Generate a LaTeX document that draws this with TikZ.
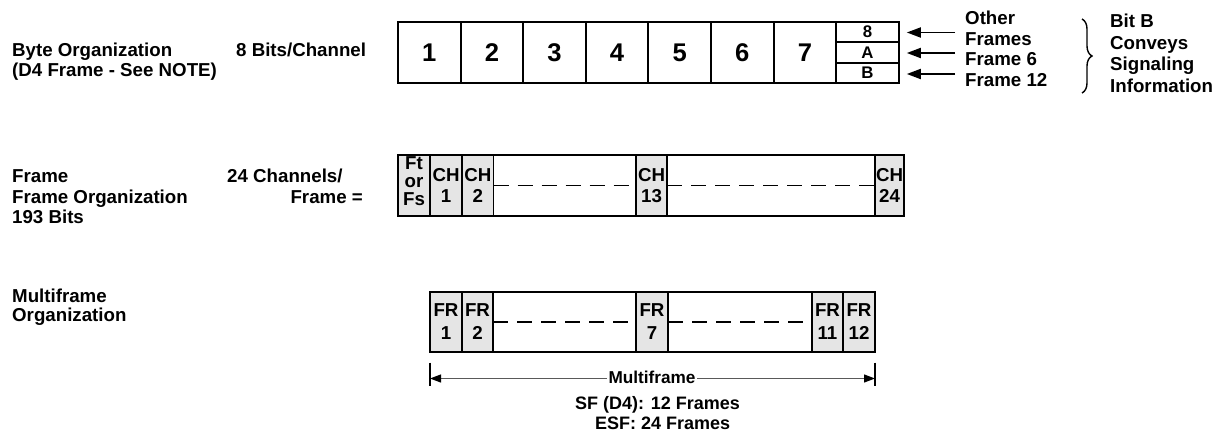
\documentclass[tikz,border=0pt]{standalone}
\usepackage{fontspec}
\setmainfont{Liberation Sans}
\usetikzlibrary{arrows.meta,decorations.pathreplacing}
\begin{document}
\begin{tikzpicture}[x=1pt,y=-1pt,
  lbl/.style={font=\fontsize{18.7}{20}\selectfont\bfseries, inner sep=0pt, anchor=base west},
  lble/.style={lbl, anchor=base east},
  cellbox/.style={draw, line width=1.9pt, inner sep=0pt, outer sep=0pt, minimum height=61pt},
  bytecell/.style={cellbox, minimum width=62.6pt, font=\fontsize{25.6}{28}\selectfont\bfseries},
  bitcell/.style={draw, line width=1.7pt, inner sep=0pt, outer sep=0pt, minimum width=62.6pt, minimum height=20.33pt, font=\fontsize{16.8}{18}\selectfont\bfseries},
  graycell/.style={cellbox, fill=gray!20, align=center, font=\fontsize{18.7}{21}\selectfont\bfseries},
  frcell/.style={graycell, minimum height=60pt, font=\fontsize{18.7}{23}\selectfont\bfseries},
  whitecell/.style={cellbox},
  whitecellm/.style={cellbox, minimum height=60pt},
  celltext/.style={inner sep=0pt, align=center, font=\fontsize{18.7}{18}\selectfont\bfseries},
  outerframe/.style={draw, line width=2.6pt},
  dashline/.style={line width=1.3pt, dash pattern=on 15pt off 9pt},
  sigarrow/.style={line width=1.8pt, shorten >=8pt, -{Triangle[length=14pt,width=10pt]}},
  dimarrow/.style={line width=1.2pt, draw=black!65, -{Triangle[length=11pt,width=8pt,color=black]}},
  tickline/.style={line width=2pt},
  bracestyle/.style={line width=1.4pt, decorate, decoration={brace, amplitude=10pt}},
]
\useasboundingbox (0,0) rectangle (1212,433);

% ---- Byte organization ----
\node[lbl] (bo1) at (12,57) {Byte Organization};
\node[lbl] (bo2) at (12,77) {(D4 Frame - See NOTE)};
\node[lbl] (bpc) at (236,57) {8 Bits/Channel};

\node[bytecell] (b1) at (429.3,52.5) {1};
\node[bytecell] (b2) at (491.9,52.5) {2};
\node[bytecell] (b3) at (554.5,52.5) {3};
\node[bytecell] (b4) at (617.1,52.5) {4};
\node[bytecell] (b5) at (679.7,52.5) {5};
\node[bytecell] (b6) at (742.3,52.5) {6};
\node[bytecell] (b7) at (804.9,52.5) {7};
\node[bitcell] (b8a) at (867.5,32.2) {8};
\node[bitcell] (b8b) at (867.5,52.5) {A};
\node[bitcell] (b8c) at (867.5,72.8) {B};
\draw[outerframe] (b1.north west) rectangle (b8c.south east);

\coordinate (a8) at (955,32.5);
\coordinate (aA) at (955,53);
\coordinate (aB) at (955,74);
\draw[sigarrow] (a8) -- (a8 -| b8a.east);
\draw[sigarrow] (aA) -- (aA -| b8b.east);
\draw[sigarrow] (aB) -- (aB -| b8c.east);

\node[lbl] (t1) at (965,24.5) {Other};
\node[lbl] (t2) at (965,45.2) {Frames};
\node[lbl] (t3) at (965,65.9) {Frame 6};
\node[lbl] (t4) at (965,86.6) {Frame 12};

\coordinate (brt) at (1082,19);
\coordinate (brb) at (1082,93);
\draw[bracestyle] (brt) -- (brb);

\node[lbl] (s1) at (1110,27.5) {Bit B};
\node[lbl] (s2) at (1110,49.2) {Conveys};
\node[lbl] (s3) at (1110,70.9) {Signaling};
\node[lbl] (s4) at (1110,92.6) {Information};

% ---- Frame organization ----
\node[lbl] (f1) at (12,182) {Frame};
\node[lbl] (f2) at (12,203) {Frame Organization};
\node[lbl] (f3) at (12,223) {193 Bits};
\node[lbl] (f4) at (227,182) {24 Channels/};
\node[lble] (f5) at (363,203) {Frame =};

\node[graycell, minimum width=32pt] (ft) at (414,185.5) {};
\node[celltext] (ftt) at (414,181) {Ft\\or\\Fs};
\node[graycell, minimum width=32pt] (ch1) at (446,185.5) {CH\\1};
\node[graycell, minimum width=31.5pt] (ch2) at (477.75,185.5) {CH\\2};
\node[whitecell, minimum width=142.5pt] (w1) at (564.75,185.5) {};
\node[graycell, minimum width=31pt] (ch13) at (651.5,185.5) {CH\\13};
\node[whitecell, minimum width=208pt] (w2) at (771,185.5) {};
\node[graycell, minimum width=29pt] (ch24) at (889.5,185.5) {CH\\24};
\draw[outerframe] (ft.north west) rectangle (ch24.south east);
\draw[dashline] (ch2.east) -- (ch13.west);
\draw[dashline] (ch13.east) -- (ch24.west);

% ---- Multiframe organization ----
\node[lbl] (m1) at (12,302) {Multiframe};
\node[lbl] (m2) at (12,321) {Organization};

\node[frcell, minimum width=32pt] (fr1) at (446,322) {FR\\1};
\node[frcell, minimum width=31pt] (fr2) at (477.5,322) {FR\\2};
\node[whitecellm, minimum width=143pt] (w3) at (564.5,322) {};
\node[frcell, minimum width=32pt] (fr7) at (652,322) {FR\\7};
\node[whitecellm, minimum width=144pt] (w4) at (740,322) {};
\node[frcell, minimum width=31pt] (fr11) at (827.5,322) {FR\\11};
\node[frcell, minimum width=32pt] (fr12) at (859,322) {FR\\12};
\draw[outerframe] (fr1.north west) rectangle (fr12.south east);
\draw[dashline] (fr2.east) -- (fr7.west);
\draw[dashline] (fr7.east) -- (fr11.west);

\coordinate (dl) at (430,378.5);
\coordinate (dr) at (875,378.5);
\draw[tickline] ([yshift=16pt]dl) -- ([yshift=-7pt]dl);
\draw[tickline] ([yshift=16pt]dr) -- ([yshift=-7pt]dr);
\node[font=\fontsize{17.2}{19}\selectfont\bfseries, fill=white, inner sep=1.5pt] (mf) at (652,377) {Multiframe};
\draw[dimarrow] (dl -| mf.west) -- (dl);
\draw[dimarrow] (dr -| mf.east) -- (dr);

\node[lbl, font=\fontsize{18}{20}\selectfont\bfseries] (sf) at (575,409) {SF (D4): 12 Frames};
\node[lbl, font=\fontsize{18}{20}\selectfont\bfseries] (esf) at (595,429.5) {ESF: 24 Frames};
\end{tikzpicture}
\end{document}
